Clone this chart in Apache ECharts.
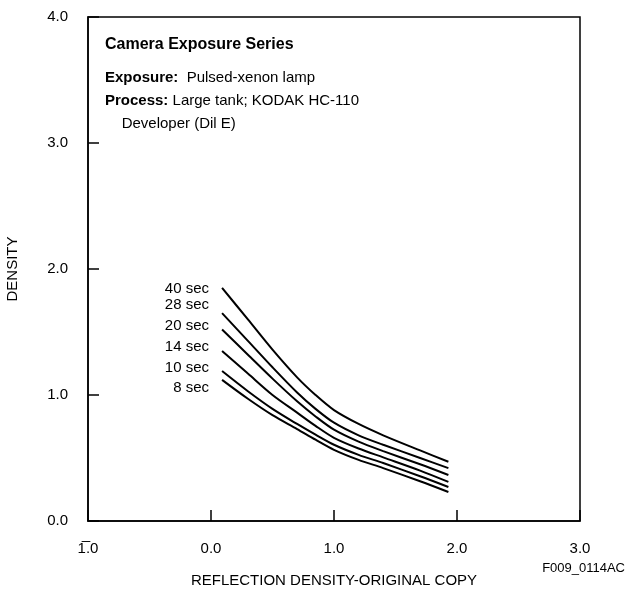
<!DOCTYPE html>
<html>
<head>
<meta charset="utf-8">
<script src="https://cdn.jsdelivr.net/npm/echarts@6/dist/echarts.min.js"></script>
<style>
  html, body { margin: 0; padding: 0; background: #fff; }
  #chart { width: 627px; height: 590px; }
</style>
</head>
<body>
<div id="chart"></div>
<script>
// log reflection density of the original copy
const xs = [0.09, 0.3, 0.5, 0.7, 0.85, 1.0, 1.2, 1.4, 1.7, 1.93]
const sec40 = [1.85, 1.60, 1.36, 1.14, 1.00, 0.88, 0.77, 0.68, 0.56, 0.47]
const sec28 = [1.65, 1.43, 1.22, 1.02, 0.89, 0.78, 0.68, 0.605, 0.50, 0.42]
const sec20 = [1.52, 1.32, 1.13, 0.95, 0.83, 0.725, 0.63, 0.555, 0.45, 0.365]
const sec14 = [1.35, 1.17, 1.00, 0.86, 0.755, 0.66, 0.575, 0.505, 0.40, 0.31]
const sec10 = [1.19, 1.03, 0.89, 0.77, 0.685, 0.605, 0.525, 0.46, 0.355, 0.27]
const sec8 = [1.12, 0.97, 0.84, 0.73, 0.645, 0.565, 0.485, 0.42, 0.315, 0.23]
const names = ['40 sec', '28 sec', '20 sec', '14 sec', '10 sec', '8 sec']
const curves = [sec40, sec28, sec20, sec14, sec10, sec8]

const font = 'Liberation Sans, Arial, sans-serif'
let myChart = echarts.init(document.getElementById('chart'))

let series = curves.map((c, i) => {
  return {
    name: names[i],
    type: 'line',
    smooth: 0.3,
    symbol: 'none',
    silent: true,
    lineStyle: { color: '#000', width: 2 },
    data: xs.map((x, j) => [x, c[j]])
  }
})

// curve labels, right aligned left of the curve starts
let labelY = [289, 305, 326, 347, 368, 388]
let labels = names.map((n, i) => {
  return {
    type: 'text',
    style: {
      x: 209, y: labelY[i], text: n,
      textAlign: 'right', textVerticalAlign: 'middle',
      font: '15px ' + font, fill: '#000'
    }
  }
})

myChart.setOption({
  animation: false,
  grid: {
    left: 88, right: 47, top: 17, bottom: 69,
    outerBoundsMode: 'none',
    show: true, borderColor: '#000', borderWidth: 1.5
  },
  xAxis: {
    type: 'value',
    min: -1, max: 3, interval: 1,
    name: 'REFLECTION DENSITY-ORIGINAL COPY',
    nameLocation: 'middle',
    nameGap: 52,
    nameTextStyle: { color: '#000', fontSize: 15, fontFamily: font },
    axisLine: { onZero: false, lineStyle: { color: '#000', width: 1.5 } },
    axisTick: { inside: true, length: 11, lineStyle: { color: '#000', width: 1.5 } },
    axisLabel: {
      color: '#000', fontSize: 15, fontFamily: font, margin: 20,
      formatter: v => v < 0 ? '1\u0305.0' : v.toFixed(1)
    },
    splitLine: { show: false }
  },
  yAxis: {
    type: 'value',
    min: 0, max: 4, interval: 1,
    name: 'DENSITY',
    nameLocation: 'middle',
    nameGap: 68,
    nameRotate: 90,
    nameTextStyle: { color: '#000', fontSize: 15, fontFamily: font },
    axisLine: { show: true, onZero: false, lineStyle: { color: '#000', width: 1.5 } },
    axisTick: { show: true, inside: true, length: 11, lineStyle: { color: '#000', width: 1.5 } },
    axisLabel: {
      color: '#000', fontSize: 15, fontFamily: font, margin: 20,
      formatter: v => v.toFixed(1)
    },
    splitLine: { show: false }
  },
  graphic: [
    {
      type: 'text',
      style: {
        x: 105, y: 45, text: 'Camera Exposure Series',
        textVerticalAlign: 'middle',
        font: 'bold 16px ' + font, fill: '#000'
      }
    },
    {
      type: 'text',
      style: {
        x: 105, y: 66,
        text: '{b|Exposure:}  Pulsed-xenon lamp\n{b|Process:} Large tank; KODAK HC-110\n    Developer (Dil E)',
        textVerticalAlign: 'top',
        font: '15px ' + font, fill: '#000',
        lineHeight: 23,
        rich: { b: { fontWeight: 'bold', fontSize: 15, fontFamily: font, lineHeight: 23 } }
      }
    },
    {
      type: 'text',
      style: {
        x: 625, y: 568, text: 'F009_0114AC',
        textAlign: 'right', textVerticalAlign: 'middle',
        font: '13px ' + font, fill: '#000'
      }
    }
  ].concat(labels),
  series: series
})
</script>
</body>
</html>
